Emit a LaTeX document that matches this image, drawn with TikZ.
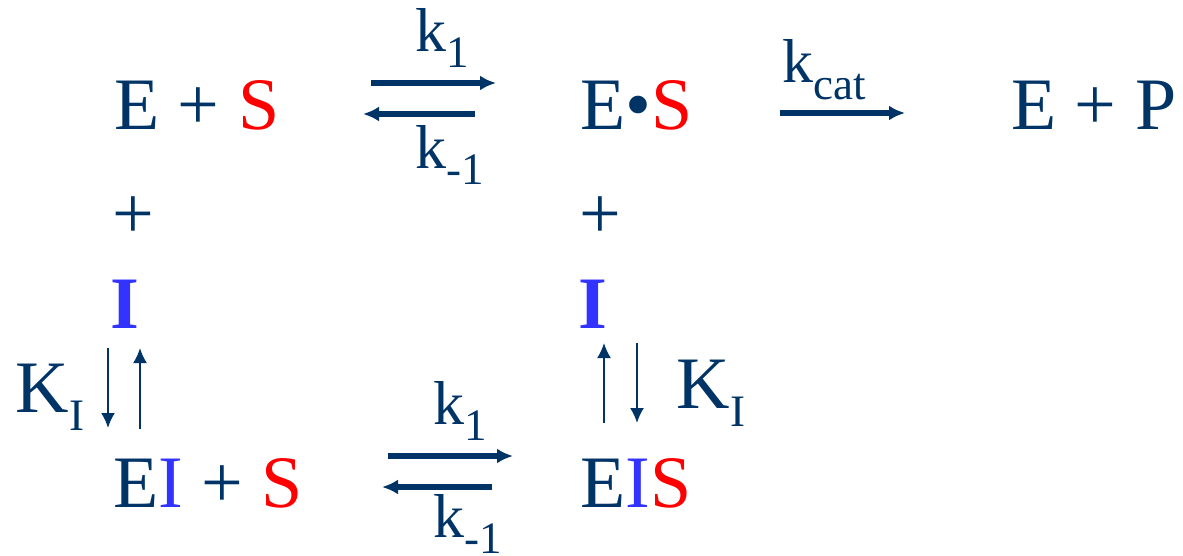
\documentclass[tikz,border=0pt]{standalone}
\usepackage{fontspec}
\newfontfamily\timesfont{Liberation Serif}
\usepackage{xcolor}
\usepackage{tikz}
\usetikzlibrary{arrows.meta, positioning}

\definecolor{navy}{RGB}{0,51,102}
\definecolor{inhblue}{RGB}{51,51,255}
\definecolor{subred}{RGB}{255,0,0}

\begin{document}
\begin{tikzpicture}[
      x=1pt, y=-1pt,
      species/.style={anchor=base west, inner sep=0pt, text=navy,
                      font=\timesfont\fontsize{74}{80}\selectfont},
      pluslbl/.style={anchor=base, inner sep=0pt, text=navy,
                      font=\timesfont\fontsize{74}{80}\selectfont},
      rate/.style={anchor=base west, inner sep=0pt, text=navy,
                   font=\timesfont\fontsize{62}{66}\selectfont},
      sublbl/.style={anchor=base west, inner sep=0pt, text=navy,
                     font=\timesfont\fontsize{45}{48}\selectfont},
      eqarr/.style={-{Latex[length=16pt, width=15pt]}, line width=5.5pt, draw=navy},
      kiarr/.style={-{Latex[length=15pt, width=14pt]}, line width=2pt, draw=navy}
    ]
    \useasboundingbox (0,0) rectangle (1183,556);

    %% ---- species (baselines at fixed coordinates) ----
    %% top row
    \node[species] at (114,130) (es0) {E + {\color{subred}S}};
    \node[species] at (580,130) (es)  {E•{\color{subred}S}};
    \node[species] at (1011,130) (ep) {E + P};

    %% inhibitor added on both sides
    \node[pluslbl] at (133,239) (pl1) {+};
    \node[pluslbl] at (600,239) (pl2) {+};
    \node[pluslbl, text=inhblue,
          font=\timesfont\fontsize{74}{80}\selectfont\bfseries] at (125,328) (i1) {I};
    \node[pluslbl, text=inhblue,
          font=\timesfont\fontsize{74}{80}\selectfont\bfseries] at (593,328) (i2) {I};

    %% bottom row
    \node[species] at (113,507) (ei)
          {E{\color{inhblue}I} + {\color{subred}S}};
    \node[species] at (580,507) (eis)
          {E{\color{inhblue}I}{\color{subred}S}};

    %% ---- rate constants ----
    \node[rate] at (415,52)  (k1a)  {k};
    \node[sublbl] at ([yshift=-16pt]k1a.base east) (k1as) {1};
    \node[rate] at (415,169) (km1a) {k};
    \node[sublbl] at ([yshift=-16pt]km1a.base east) (km1as) {-1};
    \node[rate] at (782,83)  (kcat) {k};
    \node[sublbl] at ([yshift=-17pt]kcat.base east) (kcats) {cat};
    \node[rate] at (433,424) (k1b)  {k};
    \node[sublbl] at ([yshift=-16pt]k1b.base east) (k1bs) {1};
    \node[rate] at (433,537) (km1b) {k};
    \node[sublbl] at ([yshift=-16pt]km1b.base east) (km1bs) {-1};

    %% dissociation constants
    \node[species] at (15,412)  (kil) {K};
    \node[sublbl] at ([yshift=-18pt]kil.base east) (kils) {I};
    \node[species] at (676,408) (kir) {K};
    \node[sublbl] at ([yshift=-18pt]kir.base east) (kirs) {I};

    %% ---- arrow end points ----
    \coordinate (t1) at (371,83);  \coordinate (t2) at (496,83);
    \coordinate (t3) at (475,114); \coordinate (t4) at (363,114);
    \coordinate (c1) at (780,113); \coordinate (c2) at (905,113);
    \coordinate (b1) at (388,456); \coordinate (b2) at (513,456);
    \coordinate (b3) at (492,487); \coordinate (b4) at (382,487);
    \coordinate (l1) at (108,348); \coordinate (l2) at (108,428);
    \coordinate (l3) at (140,429); \coordinate (l4) at (140,348);
    \coordinate (r1) at (604,423); \coordinate (r2) at (604,343);
    \coordinate (r3) at (637,343); \coordinate (r4) at (637,423);

    %% ---- arrows ----
    %% E + S <-> E.S
    \draw[eqarr] (t1) -- (t2);
    \draw[eqarr] (t3) -- (t4);

    %% E.S -> E + P
    \draw[eqarr] (c1) -- (c2);

    %% EI + S <-> EIS
    \draw[eqarr] (b1) -- (b2);
    \draw[eqarr] (b3) -- (b4);

    %% inhibitor binding
    \draw[kiarr] (l1) -- (l2);
    \draw[kiarr] (l3) -- (l4);
    \draw[kiarr] (r1) -- (r2);
    \draw[kiarr] (r3) -- (r4);

  \end{tikzpicture}
\end{document}
